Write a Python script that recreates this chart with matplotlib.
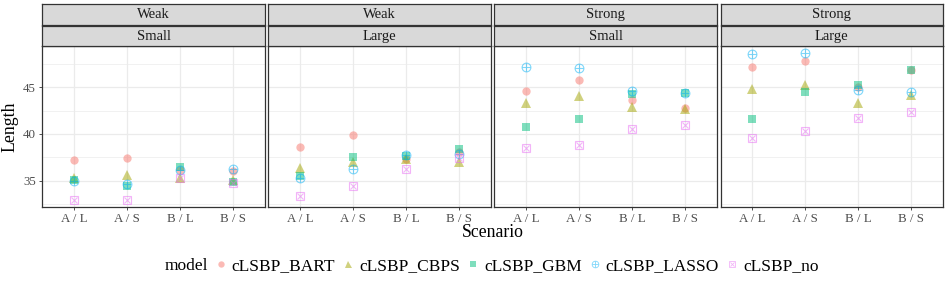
import matplotlib
matplotlib.use("Agg")
import matplotlib.pyplot as plt
from matplotlib.legend_handler import HandlerTuple

plt.rcParams["font.family"] = ["Liberation Serif", "DejaVu Serif"]

scenarios = ["A / L", "A / S", "B / L", "B / S"]
strength = ["Weak", "Weak", "Strong", "Strong"]
size = ["Small", "Large", "Small", "Large"]
models = ["cLSBP_BART", "cLSBP_CBPS", "cLSBP_GBM", "cLSBP_LASSO", "cLSBP_no"]

# one row per panel, one value per scenario
bart = [[37.2, 37.4, 36.2, 36.0],
        [38.6, 39.9, 37.3, 38.1],
        [44.6, 45.75, 43.65, 42.8],
        [47.15, 47.85, 45.0, 46.8]]
cbps = [[35.25, 35.6, 35.35, 35.1],
        [36.4, 37.0, 37.35, 37.0],
        [43.35, 44.1, 42.9, 42.65],
        [44.8, 45.2, 43.3, 44.2]]
gbm = [[35.1, 34.4, 36.5, 34.9],
       [35.5, 37.5, 37.6, 38.4],
       [40.7, 41.6, 44.25, 44.4],
       [41.65, 44.45, 45.2, 46.85]]
lasso = [[35.0, 34.7, 36.2, 36.3],
         [35.25, 36.3, 37.75, 37.9],
         [47.15, 47.0, 44.6, 44.4],
         [48.5, 48.65, 44.7, 44.5]]
no_ps = [[32.9, 33.0, 35.3, 34.8],
         [33.4, 34.4, 36.25, 37.4],
         [38.5, 38.85, 40.55, 41.0],
         [39.6, 40.3, 41.75, 42.35]]

series = [bart, cbps, gbm, lasso, no_ps]
colors = ["#F8766D", "#A3A500", "#00BF7D", "#00B0F6", "#E76BF3"]
ALPHA = 0.5

W, H = 947, 284
fig = plt.figure(figsize=(W / 100, H / 100), dpi=100)


def fx(px):
    return px / W


def fy(py):
    return 1 - py / H


lefts = [42.3, 268.3, 494.3, 720.5]
pw = 222.5
top, bottom = 46, 207
edge = "#333333"


def draw_points(ax, i, x, y, ms=6.3, lw=0.8):
    c = colors[i]
    kw = dict(linestyle="none", alpha=ALPHA, color=c)
    if i == 0:
        return [ax.plot(x, y, marker="o", markersize=ms * 0.95, markeredgewidth=0, **kw)[0]]
    if i == 1:
        return [ax.plot(x, y, marker="^", markersize=ms * 1.05, markeredgewidth=0, **kw)[0]]
    if i == 2:
        return [ax.plot(x, y, marker="s", markersize=ms * 0.85, markeredgewidth=0, **kw)[0]]
    if i == 3:
        a = ax.plot(x, y, marker="o", markersize=ms, markerfacecolor="none",
                    markeredgewidth=lw, **kw)[0]
        b = ax.plot(x, y, marker="+", markersize=ms, markeredgewidth=lw, **kw)[0]
        return [a, b]
    a = ax.plot(x, y, marker="s", markersize=ms * 0.9, markerfacecolor="none",
                markeredgewidth=lw, **kw)[0]
    b = ax.plot(x, y, marker="x", markersize=ms * 0.7, markeredgewidth=lw, **kw)[0]
    return [a, b]


xs = list(range(1, len(scenarios) + 1))
axes = []
for p in range(4):
    ax = fig.add_axes([fx(lefts[p]), fy(bottom), fx(pw), (bottom - top) / H])
    axes.append(ax)
    ax.set_xlim(0.4, 4.6)
    ax.set_ylim(32.2, 49.4)
    ax.set_xticks(xs)
    ax.set_xticklabels(scenarios)
    ax.set_yticks([35, 40, 45])
    ax.set_yticks([32.5, 37.5, 42.5, 47.5], minor=True)
    ax.grid(True, which="major", color="#EBEBEB", linewidth=0.9)
    ax.grid(True, which="minor", axis="y", color="#EBEBEB", linewidth=0.5)
    ax.set_axisbelow(True)
    ax.tick_params(which="minor", length=0)
    ax.tick_params(which="major", length=2.5, width=0.6, color=edge,
                   labelsize=9.3, labelcolor="#4D4D4D", pad=2)
    if p > 0:
        ax.tick_params(axis="y", labelleft=False, length=0)
    for s in ax.spines.values():
        s.set_color(edge)
        s.set_linewidth(0.9)
    for i, data in enumerate(series):
        draw_points(ax, i, xs, data[p])

    # facet strips
    for label, t0, t1 in [(strength[p], 4.3, 25.3), (size[p], 26.3, 46)]:
        sa = fig.add_axes([fx(lefts[p]), fy(t1), fx(pw), (t1 - t0) / H])
        sa.set_facecolor("#D9D9D9")
        sa.set_xticks([])
        sa.set_yticks([])
        for s in sa.spines.values():
            s.set_color(edge)
            s.set_linewidth(0.9)
        sa.text(0.5, 0.5, label, ha="center", va="center", fontsize=10.5,
                color="#1A1A1A", transform=sa.transAxes)

axes[0].set_ylabel("Length", fontsize=12.8, labelpad=3)
fig.text(fx(493), fy(232.5), "Scenario", ha="center", va="center", fontsize=12.8)

# legend
handles = []
for i in range(len(models)):
    hs = draw_points(axes[0], i, [], [], ms=4.8, lw=0.6)
    handles.append(tuple(hs))
fig.text(fx(165), fy(266), "model", ha="left", va="center", fontsize=12.5)
fig.legend(handles, models, loc="center left", bbox_to_anchor=(fx(215.5), fy(266)),
           ncol=5, frameon=False, fontsize=12.5, handlelength=0.6,
           handletextpad=0.33, columnspacing=0.45, borderpad=0, borderaxespad=0,
           handler_map={tuple: HandlerTuple(ndivide=1)})

fig.savefig("out.png", dpi=100)
